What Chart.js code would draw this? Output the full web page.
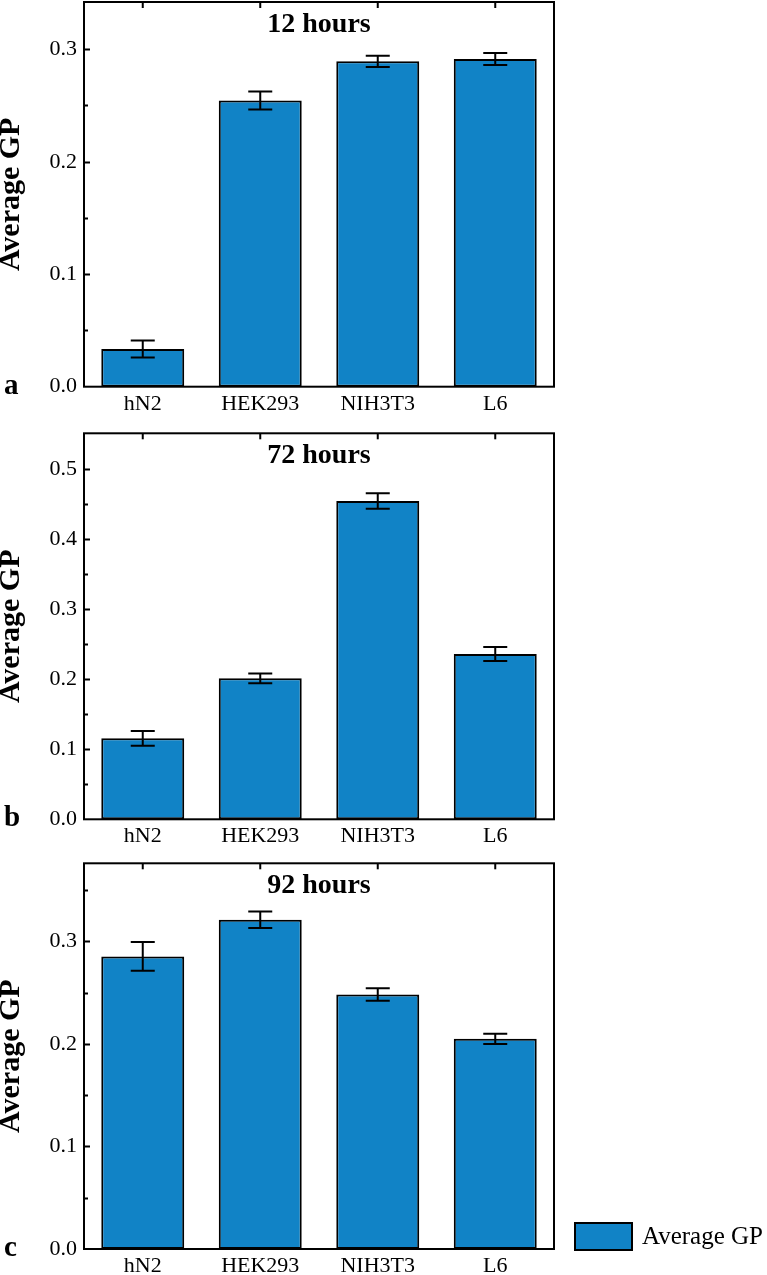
<!DOCTYPE html>
<html>
<head>
<meta charset="utf-8">
<script src="https://cdn.jsdelivr.net/npm/chart.js@4.4.1/dist/chart.umd.min.js"></script>
<style>
  html, body { margin: 0; padding: 0; background: #fff; }
  body { width: 767px; height: 1275px; position: relative; overflow: hidden; }
  .panel { position: absolute; left: 0; width: 767px; }
  canvas { display: block; }
</style>
</head>
<body>
<div class="panel" id="pa" style="top:0px;height:430px"><canvas id="ca" width="767" height="430"></canvas></div>
<div class="panel" id="pb" style="top:420px;height:440px"><canvas id="cb" width="767" height="440"></canvas></div>
<div class="panel" id="pc" style="top:850px;height:425px"><canvas id="cc" width="767" height="425"></canvas></div>
<script>
// ---- data ----
const categories = ['hN2', 'HEK293', 'NIH3T3', 'L6'];
const seriesLabel = 'Average GP';

const gp12h = [0.0335, 0.2544, 0.2893, 0.2914];
const err12h = [0.0075, 0.0080, 0.0050, 0.0053];

const gp72h = [0.1156, 0.2013, 0.4543, 0.2360];
const err72h = [0.0105, 0.0070, 0.0110, 0.0100];

const gp92h = [0.2852, 0.3210, 0.2481, 0.2049];
const err92h = [0.0140, 0.0080, 0.0060, 0.0050];

const panelTitles = ['12 hours', '72 hours', '92 hours'];
const panelLetters = ['a', 'b', 'c'];
const yMaxes = [0.342, 0.551, 0.376];
const yStep = 0.1;
const yMinorStep = 0.05;

// ---- style ----
const FONT = '"Liberation Serif", "Times New Roman", Times, serif';
const BAR_COLOR = '#1183c6';

const framePlugin = {
  id: 'frameAndExtras',
  afterDatasetsDraw(chart, args, opts) {
    const ctx = chart.ctx;
    const ca = chart.chartArea;
    const ys = chart.scales.y;
    const xs = chart.scales.x;
    ctx.save();
    // error bars
    const ds = chart.data.datasets[0];
    const meta = chart.getDatasetMeta(0);
    ctx.strokeStyle = '#000';
    ctx.lineWidth = 2;
    meta.data.forEach((el, i) => {
      const v = ds.data[i], e = opts.errors[i];
      const yt = ys.getPixelForValue(v + e);
      const yb = ys.getPixelForValue(v - e);
      const x = el.x;
      ctx.beginPath();
      ctx.moveTo(x, yt); ctx.lineTo(x, yb);
      ctx.moveTo(x - 12, yt); ctx.lineTo(x + 12, yt);
      ctx.moveTo(x - 12, yb); ctx.lineTo(x + 12, yb);
      ctx.stroke();
    });
    // frame
    ctx.lineWidth = 2;
    ctx.strokeRect(ca.left, ca.top, ca.right - ca.left, ca.bottom - ca.top);
    // y ticks inward (major + minor)
    const n = Math.round(ys.max / yMinorStep);
    for (let k = 1; k <= n; k++) {
      const v = k * yMinorStep;
      if (v > ys.max - 0.004) continue;
      const y = Math.round(ys.getPixelForValue(v)) + 0.5;
      const major = (k % 2 === 0);
      ctx.lineWidth = 2;
      ctx.beginPath();
      ctx.moveTo(ca.left, y);
      ctx.lineTo(ca.left + (major ? 6 : 4), y);
      ctx.stroke();
    }
    // x ticks at top, inward
    xs.ticks.forEach((t, i) => {
      const x = xs.getPixelForTick(i);
      ctx.beginPath();
      ctx.moveTo(x, ca.top);
      ctx.lineTo(x, ca.top + 6);
      ctx.stroke();
    });
    // panel title inside plot
    ctx.fillStyle = '#000';
    ctx.font = 'bold 28px ' + FONT;
    ctx.textAlign = 'center';
    ctx.textBaseline = 'alphabetic';
    ctx.fillText(opts.title, (ca.left + ca.right) / 2, ca.top + 30);
    // panel letter
    ctx.font = 'bold 29px ' + FONT;
    ctx.textAlign = 'left';
    ctx.fillText(opts.letter, 4, ca.bottom + 7);
    // legend
    if (opts.legend) {
      const bx = ca.right + 21, by = ca.bottom - 26, bw = 57, bh = 27;
      ctx.fillStyle = BAR_COLOR;
      ctx.fillRect(bx, by, bw, bh);
      ctx.strokeStyle = '#000';
      ctx.lineWidth = 2;
      ctx.strokeRect(bx, by, bw, bh);
      ctx.fillStyle = '#000';
      ctx.font = '25px ' + FONT;
      ctx.textAlign = 'left';
      ctx.textBaseline = 'alphabetic';
      ctx.fillText(ds.label, bx + bw + 10, by + 21);
    }
    ctx.restore();
  }
};

function makeChart(canvasId, values, errors, idx, padTop, xAxisH, legend) {
  return new Chart(document.getElementById(canvasId), {
    type: 'bar',
    data: {
      labels: categories,
      datasets: [{
        label: seriesLabel,
        data: values,
        backgroundColor: BAR_COLOR,
        borderColor: '#000',
        borderWidth: 2,
        borderSkipped: false,
        barPercentage: 1.0,
        categoryPercentage: 0.706
      }]
    },
    options: {
      responsive: false,
      animation: false,
      devicePixelRatio: 1,
      layout: { padding: { left: 0, right: 213, top: padTop, bottom: 0 } },
      plugins: {
        legend: { display: false },
        tooltip: { enabled: false },
        frameAndExtras: {
          errors: errors,
          title: panelTitles[idx],
          letter: panelLetters[idx],
          legend: legend
        }
      },
      scales: {
        x: {
          type: 'category',
          grid: { display: false, drawTicks: false },
          border: { display: false },
          ticks: { color: '#000', font: { family: FONT, size: 22 }, padding: 4, maxRotation: 0 },
          afterFit: (s) => { s.height = xAxisH; s.paddingLeft = 0; s.paddingRight = 0; }
        },
        y: {
          min: 0,
          max: yMaxes[idx],
          grid: { display: false, drawTicks: false },
          border: { display: false },
          ticks: {
            stepSize: yStep,
            includeBounds: false,
            color: '#000',
            padding: 7,
            font: { family: FONT, size: 22 },
            callback: (v) => Number(v).toFixed(1)
          },
          title: {
            display: true,
            text: seriesLabel,
            color: '#000',
            font: { family: FONT, size: 30, weight: 'bold', lineHeight: 1 },
            padding: { top: -4, bottom: 0 }
          },
          afterFit: (s) => { s.width = 84; s.paddingTop = 0; s.paddingBottom = 0; }
        }
      }
    },
    plugins: [framePlugin]
  });
}

makeChart('ca', gp12h, err12h, 0, 2, 430 - 386.7, false);
makeChart('cb', gp72h, err72h, 1, 13.3, 440 - 399.3, false);
makeChart('cc', gp92h, err92h, 2, 13.3, 425 - 399, true);
</script>
</body>
</html>
